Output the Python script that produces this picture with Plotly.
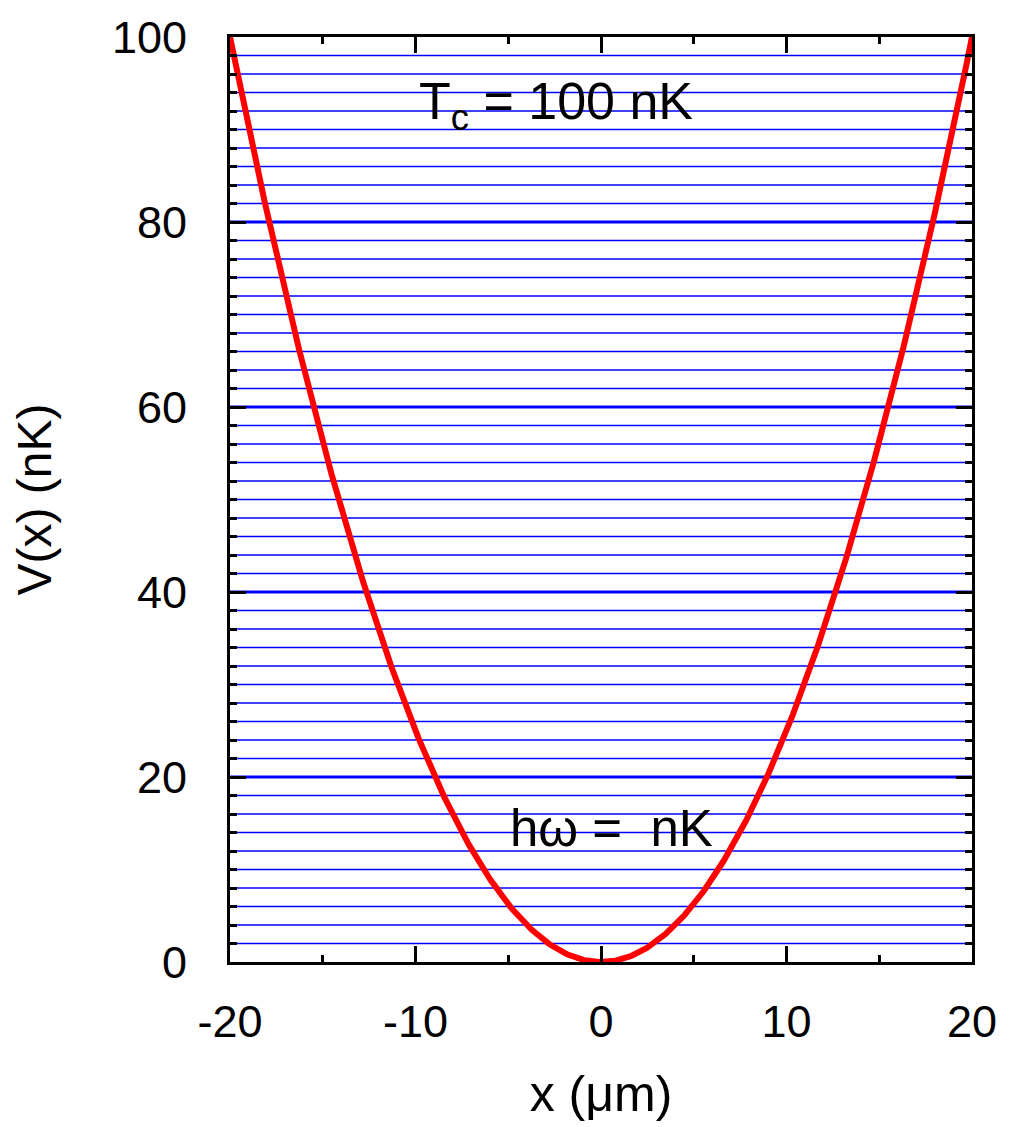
import numpy as np
import plotly.graph_objects as go

# Data
x_min, x_max = -20.0, 20.0
v_max = 100.0                       # V(x) at x = +/-20 um (nK)
levels = list(range(2, 100, 2))     # energy levels (nK)
thick_levels = [20, 40, 60, 80]
x_ticks = [-20, -10, 0, 10, 20]
x_tick_text = ["-20", "-10", "0", "10", "20"]
y_ticks = [0, 20, 40, 60, 80, 100]
y_tick_text = ["0", "20", "40", "60", "80", "100"]

x_curve = np.linspace(x_min, x_max, 801)
v_curve = v_max * (x_curve / x_max) ** 2

fig = go.Figure()

thin_x, thin_y, thick_x, thick_y = [], [], [], []
for e in levels:
    if e in thick_levels:
        thick_x += [x_min, x_max, None]
        thick_y += [e, e, None]
    else:
        thin_x += [x_min, x_max, None]
        thin_y += [e, e, None]

fig.add_trace(go.Scatter(x=thin_x, y=thin_y, mode="lines",
                         line=dict(color="#0000ff", width=1.6), hoverinfo="skip",
                         showlegend=False))
fig.add_trace(go.Scatter(x=thick_x, y=thick_y, mode="lines",
                         line=dict(color="#0000ff", width=3), hoverinfo="skip",
                         showlegend=False))
fig.add_trace(go.Scatter(x=x_curve, y=v_curve, mode="lines",
                         line=dict(color="#ff0000", width=6), showlegend=False))

font_family = "Liberation Sans, Arial, sans-serif"

fig.add_annotation(x=-2.4, y=92.6, text="T<sub>c</sub> = 100 nK", showarrow=False,
                   font=dict(family=font_family, size=52, color="black"))
fig.add_annotation(x=0.55, y=14.4, text="hω =  nK", showarrow=False,
                   font=dict(family=font_family, size=51, color="black"))

axis_common = dict(showgrid=False, zeroline=False, showline=True, linecolor="black",
                   linewidth=3, mirror="allticks", ticks="inside", tickcolor="black",
                   tickwidth=3, ticklen=16,
                   tickfont=dict(family=font_family, size=45, color="black"))

fig.update_xaxes(range=[x_min, x_max], tickvals=x_ticks, ticktext=x_tick_text,
                 minor=dict(dtick=5, ticks="inside", ticklen=7, tickwidth=3, tickcolor="black"),
                 title=dict(text="x (μm)", font=dict(family=font_family, size=50, color="black"),
                            standoff=30),
                 ticklabelstandoff=18,
                 **axis_common)
fig.update_yaxes(range=[0, v_max], tickvals=y_ticks, ticktext=y_tick_text,
                 minor=dict(dtick=2, ticks="inside", ticklen=7, tickwidth=3, tickcolor="black"),
                 title=dict(text="V(x) (nK)", font=dict(family=font_family, size=48, color="black"),
                            standoff=46),
                 ticklabelstandoff=31,
                 **axis_common)

fig.update_layout(width=1009, height=1127,
                  margin=dict(l=230, r=34, t=33, b=165),
                  paper_bgcolor="white", plot_bgcolor="white")

fig.write_html("out.html")
